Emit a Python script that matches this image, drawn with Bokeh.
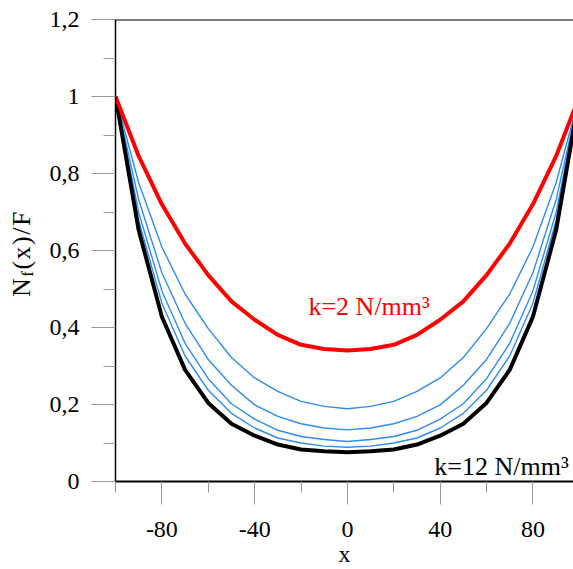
from bokeh.plotting import figure
from bokeh.models import FixedTicker, Span, Label, Div
from bokeh.layouts import row
from bokeh.embed import file_html
from bokeh.resources import INLINE

# ---- data ----
x = [-100, -90, -80, -70, -60, -50, -40, -30, -20, -10, 0,
     10, 20, 30, 40, 50, 60, 70, 80, 90, 100]

k2 = [1.0, 0.845, 0.720, 0.618, 0.536, 0.468, 0.420, 0.381, 0.355, 0.344, 0.340,
      0.344, 0.355, 0.381, 0.420, 0.468, 0.536, 0.618, 0.720, 0.845, 1.0]
k4 = [1.0, 0.776, 0.609, 0.487, 0.397, 0.322, 0.269, 0.234, 0.208, 0.195, 0.189,
      0.195, 0.208, 0.234, 0.269, 0.322, 0.397, 0.487, 0.609, 0.776, 1.0]
k6 = [1.0, 0.732, 0.542, 0.411, 0.317, 0.250, 0.199, 0.169, 0.150, 0.139, 0.134,
      0.139, 0.150, 0.169, 0.199, 0.250, 0.317, 0.411, 0.542, 0.732, 1.0]
k8 = [1.0, 0.699, 0.495, 0.359, 0.267, 0.202, 0.162, 0.133, 0.117, 0.109, 0.104,
      0.109, 0.117, 0.133, 0.162, 0.202, 0.267, 0.359, 0.495, 0.699, 1.0]
k10 = [1.0, 0.678, 0.463, 0.326, 0.237, 0.177, 0.139, 0.113, 0.100, 0.092, 0.089,
       0.092, 0.100, 0.113, 0.139, 0.177, 0.237, 0.326, 0.463, 0.678, 1.0]
k12 = [1.0, 0.653, 0.428, 0.290, 0.204, 0.150, 0.119, 0.096, 0.083, 0.0785, 0.076,
       0.0785, 0.083, 0.096, 0.119, 0.150, 0.204, 0.290, 0.428, 0.653, 1.0]

x_major = [-80, -40, 0, 40, 80]
x_minor = [-100, -60, -20, 20, 60, 100]
x_labels = {-80: "-80", -40: "-40", 0: "0", 40: "40", 80: "80"}
y_major = [0, 0.2, 0.4, 0.6, 0.8, 1, 1.2]
y_minor = [0.1, 0.3, 0.5, 0.7, 0.9, 1.1]
y_labels = {0: "0", 0.2: "0,2", 0.4: "0,4", 0.6: "0,6", 0.8: "0,8", 1: "1", 1.2: "1,2"}

FONT = "Liberation Serif"
BLUE = "#2e8cf0"
LEFT_W = 40

p = figure(width=573 - LEFT_W, height=569, x_range=(-100, 97.5), y_range=(0, 1.2),
           output_backend="svg", toolbar_location=None,
           min_border_left=115 - LEFT_W, min_border_right=0, min_border_top=19,
           min_border_bottom=87)
p.outline_line_color = None
p.xgrid.visible = False
p.ygrid.visible = False
p.background_fill_color = "white"
p.border_fill_color = "white"

# curves
for ys in [k4, k6, k8, k10]:
    p.line(x, ys, line_color=BLUE, line_width=1.4, line_join="round")
p.line(x, k12, line_color="black", line_width=4, line_join="round")
p.line(x, k2, line_color="#ff0000", line_width=4, line_join="round")

# top border
p.add_layout(Span(location=1.2, dimension="width", line_color="black", line_width=2))

# axes
for ax in (p.xaxis, p.yaxis):
    ax.axis_line_color = "black"
    ax.major_tick_line_color = "#999999"
    ax.minor_tick_line_color = "#999999"
    ax.major_tick_in = 0
    ax.minor_tick_in = 0
    ax.major_label_text_font = FONT
    ax.major_label_text_font_size = "24px"
    ax.major_label_text_color = "black"

p.xaxis.axis_line_width = 2
p.yaxis.axis_line_width = 1.5
p.xaxis.ticker = FixedTicker(ticks=x_major, minor_ticks=x_minor)
p.yaxis.ticker = FixedTicker(ticks=y_major, minor_ticks=y_minor)
p.xaxis.major_label_overrides = x_labels
p.yaxis.major_label_overrides = y_labels
p.xaxis.major_tick_out = 23
p.xaxis.minor_tick_out = 11
p.yaxis.major_tick_out = 24
p.yaxis.minor_tick_out = 12
p.xaxis.major_label_standoff = 17
p.yaxis.major_label_standoff = 12

p.xaxis.axis_label = "x"
p.xaxis.axis_label_text_font = FONT
p.xaxis.axis_label_text_font_size = "24px"
p.xaxis.axis_label_text_font_style = "normal"
p.xaxis.axis_label_text_color = "black"
p.xaxis.axis_label_standoff = 1

# annotations
p.add_layout(Label(x=-16.8, y=0.4536, text="k=2 N/mm³", text_font=FONT,
                   text_font_size="26px", text_align="left", text_baseline="alphabetic",
                   text_color="#ff0000"))
p.add_layout(Label(x=37.5, y=0.039, text="k=12 N/mm³", text_font=FONT,
                   text_font_size="26px", text_align="left", text_baseline="alphabetic",
                   text_color="black"))

# rotated y-axis title with subscript
ylab = Div(text="N<sub style='font-size:17px'>f</sub>(x)/F", width=LEFT_W, height=569,
           margin=0,
           styles={"writing-mode": "vertical-rl", "transform": "rotate(180deg)",
                   "font-family": FONT, "font-size": "26px", "color": "black",
                   "padding-top": "272px", "padding-right": "7px",
                   "letter-spacing": "1.5px", "box-sizing": "border-box",
                   "line-height": "30px", "white-space": "nowrap"})

layout = row(ylab, p, spacing=0)
open("out.html", "w").write(file_html(layout, INLINE))
